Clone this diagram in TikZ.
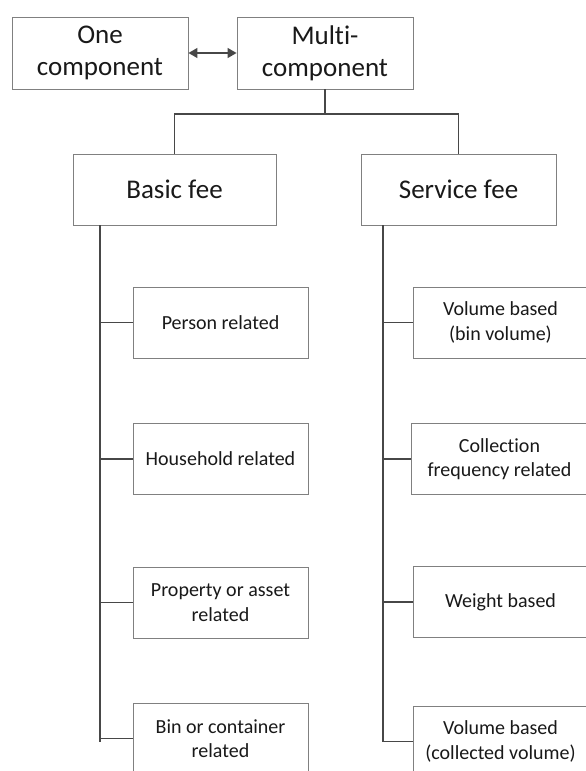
\documentclass[tikz,border=0pt]{standalone}
\usepackage{fontspec}
\setmainfont{Carlito}[Ligatures={NoCommon,NoContextual}]
\usetikzlibrary{arrows.meta}
\tikzset{
  bigbox/.style={draw=black!50, line width=0.9pt, fill=white, minimum width=176pt, minimum height=72pt,
    inner sep=0pt, align=center, text=black!90, font=\fontsize{27}{32}\selectfont},
  midbox/.style={draw=black!50, line width=0.9pt, fill=white, minimum width=203pt, minimum height=71pt,
    inner sep=0pt, align=center, text=black!90, font=\fontsize{27}{32}\selectfont},
  kidbox/.style={draw=black!50, line width=0.9pt, fill=white, minimum width=175pt, minimum height=71pt,
    inner sep=0pt, align=center, text=black!90, font=\fontsize{20}{24.5}\selectfont},
  conn/.style={draw=black!72, line width=1.3pt},
  dblarrow/.style={draw=black!72, line width=1.3pt, {Triangle[length=9pt,width=10pt]}-{Triangle[length=9pt,width=10pt]}}
}
\begin{document}
\begin{tikzpicture}[x=1pt,y=-1pt]
\useasboundingbox (0,0) rectangle (586,771);
\clip (0,0) rectangle (586,771);
\fill[white] (0,0) rectangle (586,771);

% top row
\node[bigbox] (one) at (100,53) {One\\component};
\node[bigbox] (multi) at (325,53) {Multi-\\component};
\draw[dblarrow] (one.east) -- (multi.west);

% second row
\node[midbox] (basic) at (174.5,189.5) {Basic fee};
\node[midbox, minimum width=195pt] (service) at (458.5,189.5) {Service fee};

\coordinate (jn) at (325,114);
\draw[conn] (multi.south) -- (jn);
\draw[conn] (basic.north) |- (jn) -| (service.north);

% left children
\node[kidbox] (person) at (220.5,322.5) {Person related};
\node[kidbox] (household) at (220.5,459) {Household related};
\node[kidbox] (property) at (220.5,602.5) {Property or asset\\related};
\node[kidbox] (bin) at (220.5,738.5) {Bin or container\\related};

% right children
\node[kidbox] (volbin) at (500.5,322.5) {Volume based\\(bin volume)};
\node[kidbox, minimum width=177pt] (collect) at (499.5,459) {Collection\\frequency related};
\node[kidbox] (weight) at (500.5,602) {Weight based};
\node[kidbox] (volcol) at (500.5,741.5) {Volume based\\(collected volume)};

% spines
\coordinate (lbot) at (100,742);
\coordinate (rbot) at (383,742);
\draw[conn] (basic.south -| lbot) -- (lbot);
\draw[conn] (service.south -| rbot) -- (rbot);

\draw[conn] (person.west) -- (person.west -| lbot);
\draw[conn] (household.west) -- (household.west -| lbot);
\draw[conn] (property.west) -- (property.west -| lbot);
\draw[conn] (bin.west) -- (bin.west -| lbot);

\draw[conn] (volbin.west) -- (volbin.west -| rbot);
\draw[conn] (collect.west) -- (collect.west -| rbot);
\draw[conn] (weight.west) -- (weight.west -| rbot);
\draw[conn] (volcol.west) -- (volcol.west -| rbot);
\end{tikzpicture}
\end{document}
